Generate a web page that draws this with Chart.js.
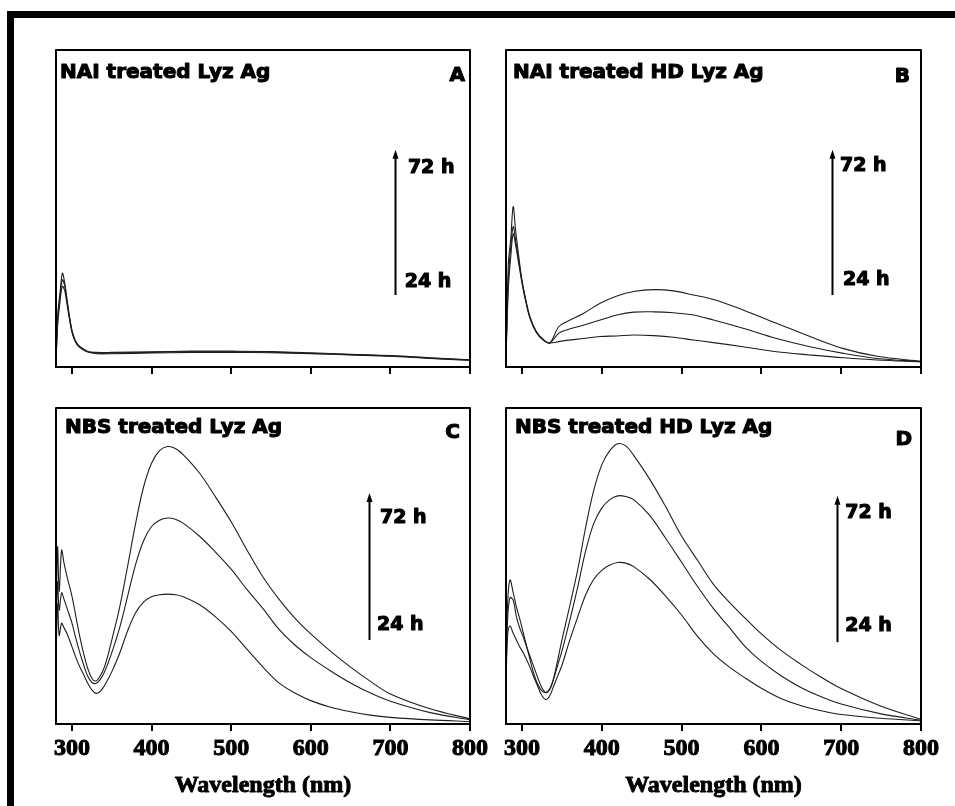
<!DOCTYPE html>
<html>
<head>
<meta charset="utf-8">
<script src="https://cdn.jsdelivr.net/npm/chart.js@4/dist/chart.umd.min.js"></script>
<style>
  html, body { margin: 0; padding: 0; background: #fff; }
  body { width: 955px; height: 806px; position: relative; overflow: hidden; }
  canvas { position: absolute; left: 0; top: 0; }
  #frame { position: absolute; left: 7px; top: 11px; width: 960px; height: 800px;
           border-left: 7px solid #000; border-top: 7px solid #000; }
</style>
</head>
<body>
<div id="frame"></div>
<canvas id="cA" width="955" height="806"></canvas>
<canvas id="cB" width="955" height="806"></canvas>
<canvas id="cC" width="955" height="806"></canvas>
<canvas id="cD" width="955" height="806"></canvas>
<script>
// ---------- data (wavelength in nm, intensity in arbitrary units 0-100) ----------
const xTicks = [300, 400, 500, 600, 700, 800];
const seriesNames = ['24 h', '48 h', '72 h'];

const wlA = [280,282,285,288,291,294,297,300,304,308,313,320,330,350,400,450,500,550,600,650,700,750,800];
const a24 = [1.3,13.0,20.5,25.5,24.0,19.5,15.0,11.0,8.1,6.6,5.6,4.7,4.2,4.2,4.4,4.6,4.6,4.5,4.2,3.8,3.4,2.7,2.1];
const a48 = [1.3,14.5,22.0,27.5,25.5,20.5,15.5,11.3,8.3,6.8,5.8,4.8,4.4,4.4,4.6,4.8,4.8,4.7,4.3,3.9,3.5,2.8,2.2];
const a72 = [1.3,15.9,23.3,29.6,26.4,21.1,15.9,11.7,8.5,6.9,5.9,4.9,4.6,4.6,4.8,5.0,5.0,4.9,4.5,4.0,3.6,2.9,2.3];

const wlB = [280,283,286,289,292,296,300,304,310,318,327,335,346,356,377,398,419,440,465,490,515,540,577,619,661,703,745,800];
const b24 = [3.2,25.0,35.0,42.0,38.5,32.5,26.5,21.5,15.4,10.9,8.4,7.6,8.0,8.4,9.0,9.6,9.8,10.1,9.9,9.4,8.5,7.7,6.4,4.8,3.8,2.9,2.2,1.6];
const b48 = [3.2,28.0,38.0,44.3,40.0,33.5,27.0,21.8,15.6,11.0,8.5,7.6,10.6,11.7,13.2,14.8,16.4,17.3,17.4,17.1,16.4,14.8,12.2,9.0,6.4,4.3,2.7,1.7];
const b72 = [3.2,32.7,40.5,50.6,43.2,34.8,27.4,22.2,15.9,11.2,8.6,7.6,12.7,14.3,16.9,20.1,22.4,23.8,24.4,24.0,22.7,21.3,18.0,13.8,9.6,5.8,3.4,1.8];

const wlC = [280,282,284,287,290,294,300,305,310,315,320,325,330,335,340,345,350,360,370,380,390,400,410,420,430,440,460,480,500,520,540,560,580,600,625,650,675,700,750,800];
const c24 = [20,38,28,31.9,30.5,28.5,24.5,21,18,15.5,12.8,10.8,9.7,10.2,11.8,14,16.5,22.4,29.5,35.2,38.6,40.3,40.9,41.1,40.9,40.3,37.8,34,29.3,23.6,18,13,9.8,7.4,5.3,3.9,2.8,2.1,1.3,0.8];
const c48 = [25,45,36,41.5,39.5,36.5,32,27,22.5,18.5,15,13.2,12.8,13.9,16,19,22.5,30.5,40.5,50.5,58,62.5,64.5,65.2,64.8,63.5,59.5,54.5,49,42.5,36.5,30,25,21,16.8,13,9.8,7.2,3.6,1.3];
const c72 = [30,56,42,55,51,46.5,40.5,34,27.5,22,17.5,14.5,13.6,15.0,17.5,21.5,26.5,37,50,63.5,75,82.5,86.5,87.8,87.2,85.2,79.5,72,64,55,46.5,39.5,33.5,28.5,23,18,13.5,9.5,4.8,1.6];

const wlD = [280,282,285,289,293,297,301,305,310,315,320,325,330,335,340,345,350,360,370,380,390,400,410,420,430,440,460,480,500,520,540,560,580,600,625,650,675,700,750,800];
const d24 = [12,28,31,28.7,26.6,24.5,22.8,20.8,18,14.8,11.8,9.0,7.7,9.0,12.2,15.3,18.5,26.6,34,41,45.8,48.6,50.3,51.1,50.9,49.8,45.8,40.5,34.5,27.7,22.2,18,14.5,11.3,8.0,5.8,4.2,3.0,1.8,1.0];
const d48 = [14,33,40,39.2,34.0,30.5,28,25,21.5,18,14.5,11.5,9.9,11,14.5,18.8,23,32.9,43.5,55,63.5,68.3,71,72.2,72,71,66,58.8,51.2,43.5,36.5,30.5,24.4,19.8,15.2,11.5,8.6,6.3,3.2,1.2];
const d72 = [16,38,45.6,41.6,37.1,33.5,29.5,25.5,20.5,15.8,12.5,10.5,10.0,11.2,14.8,20.5,26.5,37.5,49,62.5,74,82,86.5,88.7,88,85,77.5,68.8,59.5,51.8,44.2,38.5,33.4,28.5,23.2,18.8,14.8,11.2,5.6,1.5];

const titles  = ['NAI treated Lyz Ag', 'NAI treated HD Lyz Ag', 'NBS treated Lyz Ag', 'NBS treated HD Lyz Ag'];
const letters = ['A', 'B', 'C', 'D'];
const axisTitle = 'Wavelength (nm)';

// ---------- layout / styling (not data) ----------
const W = 955, H = 806, AXIS_H = 80;
const SERIF = { family: 'Liberation Serif', size: 24, weight: 'bold' };
const panels = [
  { id: 'cA', wl: wlA, series: [a24, a48, a72], area: {l: 56,  r: 470, t: 50,  b: 367}, labels: false,
    titleDx: 4, titleDy: 23, letterDx: 5, letterDy: 26,
    arrow: {x: 705.8, tip: 68.5, base: 22.7}, hi: {x: 722, y: 62.8}, lo: {x: 718, y: 26.8} },
  { id: 'cB', wl: wlB, series: [b24, b48, b72], area: {l: 506, r: 921, t: 50,  b: 367}, labels: false,
    titleDx: 7, titleDy: 23, letterDx: 11, letterDy: 27,
    arrow: {x: 688.1, tip: 68.5, base: 22.7}, hi: {x: 698.5, y: 63.4}, lo: {x: 702.3, y: 27.4} },
  { id: 'cC', wl: wlC, series: [c24, c48, c72], area: {l: 56,  r: 470, t: 408, b: 724}, labels: true,
    titleDx: 9, titleDy: 20, letterDx: 10, letterDy: 25,
    arrow: {x: 673.1, tip: 73.1, base: 26.6}, hi: {x: 687, y: 65.2}, lo: {x: 683.2, y: 31.3} },
  { id: 'cD', wl: wlD, series: [d24, d48, d72], area: {l: 506, r: 921, t: 408, b: 724}, labels: true,
    titleDx: 9, titleDy: 20, letterDx: 9, letterDy: 32,
    arrow: {x: 694.4, tip: 72.2, base: 25.9}, hi: {x: 705, y: 66.8}, lo: {x: 705, y: 31.0} }
];

function boldText(ctx, txt, x, y, sw) {
  ctx.lineWidth = sw;
  ctx.strokeText(txt, x, y);
  ctx.fillText(txt, x, y);
}

const annotate = {
  id: 'annotate',
  afterDraw(chart, args, o) {
    const {ctx, chartArea: ca, scales: {x, y}} = chart;
    ctx.save();
    ctx.strokeStyle = '#000';
    ctx.fillStyle = '#000';
    ctx.lineJoin = 'round';
    ctx.lineWidth = 2;
    ctx.strokeRect(ca.left, ca.top, ca.right - ca.left, ca.bottom - ca.top);
    ctx.textBaseline = 'middle';
    ctx.textAlign = 'left';
    ctx.font = 'bold 20px "DejaVu Sans"';
    boldText(ctx, o.title, ca.left + o.titleDx, ca.top + o.titleDy, 1.1);
    ctx.textAlign = 'right';
    ctx.font = 'bold 20px "DejaVu Sans"';
    boldText(ctx, o.letter, ca.right - o.letterDx, ca.top + o.letterDy, 1.1);
    // arrow
    ctx.lineWidth = 2;
    const ax = Math.round(x.getPixelForValue(o.arrow.x)) + 0.5;
    const yt = y.getPixelForValue(o.arrow.tip);
    const yb = y.getPixelForValue(o.arrow.base);
    ctx.beginPath(); ctx.moveTo(ax, yb); ctx.lineTo(ax, yt + 6); ctx.stroke();
    ctx.beginPath(); ctx.moveTo(ax, yt); ctx.lineTo(ax - 3, yt + 9); ctx.lineTo(ax + 3, yt + 9); ctx.closePath(); ctx.fill();
    ctx.textAlign = 'left';
    ctx.font = 'bold 19px "DejaVu Sans"';
    boldText(ctx, seriesNames[2], x.getPixelForValue(o.hi.x), y.getPixelForValue(o.hi.y), 1.1);
    boldText(ctx, seriesNames[0], x.getPixelForValue(o.lo.x), y.getPixelForValue(o.lo.y), 1.1);
    // heavier axis title (re-inks the library's title in place)
    if (o.labels) {
      ctx.textAlign = 'center';
      ctx.font = 'bold 24px "Liberation Serif"';
      const ty = x.bottom - 24 * 1.2 / 2 - 4;
      ctx.lineWidth = 0.9;
      ctx.strokeText(axisTitle, (ca.left + ca.right) / 2, ty);
    }
    ctx.restore();
  }
};

panels.forEach((p, i) => {
  const datasets = p.series.map((s, k) => ({
    label: seriesNames[k],
    data: p.wl.map((w, j) => ({x: w, y: s[j]})),
    borderColor: '#1e1e1e',
    borderWidth: 1.1,
    pointRadius: 0,
    fill: false,
    tension: 0.35
  }));
  new Chart(document.getElementById(p.id), {
    type: 'line',
    data: { datasets },
    plugins: [annotate],
    options: {
      responsive: false,
      animation: false,
      events: [],
      layout: { padding: { left: p.area.l, right: W - p.area.r, top: p.area.t, bottom: H - p.area.b - AXIS_H } },
      plugins: {
        legend: { display: false },
        tooltip: { enabled: false },
        annotate: { title: titles[i], letter: letters[i], titleDx: p.titleDx, titleDy: p.titleDy,
                    letterDx: p.letterDx, letterDy: p.letterDy, arrow: p.arrow, hi: p.hi, lo: p.lo,
                    labels: p.labels }
      },
      scales: {
        x: {
          type: 'linear', position: 'bottom', min: 280, max: 800,
          afterBuildTicks: (sc) => { sc.ticks = xTicks.map(v => ({ value: v })); },
          afterFit: (sc) => { sc.height = AXIS_H; },
          grid: { display: true, drawOnChartArea: false, drawTicks: true, tickLength: 7, color: '#000', lineWidth: 2 },
          border: { display: true, color: '#000', width: 2 },
          ticks: {
            color: p.labels ? '#000' : 'rgba(0,0,0,0)',
            textStrokeColor: p.labels ? '#000' : 'rgba(0,0,0,0)',
            textStrokeWidth: 1,
            padding: 3,
            autoSkip: false,
            maxRotation: 0,
            font: SERIF
          },
          title: {
            display: p.labels, text: axisTitle, color: '#000',
            font: SERIF,
            padding: { top: 0, bottom: 4 }
          }
        },
        y: { type: 'linear', min: 0, max: 100, display: false }
      }
    }
  });
});
</script>
</body>
</html>
